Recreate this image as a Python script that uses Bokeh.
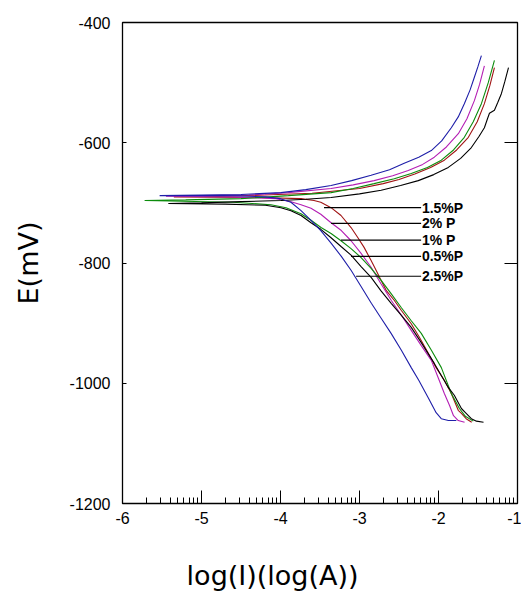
import math
from bokeh.plotting import figure
from bokeh.layouts import column
from bokeh.models import Range1d, LinearAxis, FixedTicker, ColumnDataSource
from bokeh.core.properties import value
from bokeh.embed import file_html
from bokeh.resources import INLINE

# Polarization curves: log(I) in log(A), E in mV.
# Each series runs from the cathodic end, through Ecorr, to the anodic end.
p05_logi = [-1.43, -1.52, -1.584, -1.65, -1.71, -1.80, -1.876, -1.965, -2.053, -2.22,
            -2.345, -2.47, -2.599, -2.73, -2.853, -2.98, -3.107, -3.23, -3.36, -3.49,
            -3.614, -3.74, -3.868, -3.995, -4.19, -4.70, -5.42,
            -5.00, -4.50, -3.995, -3.68, -3.36, -3.00, -2.726, -2.48, -2.256, -2.06,
            -1.876, -1.72, -1.584, -1.49, -1.419, -1.38, -1.355, -1.292, -1.25, -1.203,
            -1.16, -1.114]
p05_e = [-1065, -1063, -1059, -1050, -1042, -1020, -1007, -987, -967, -932,
         -907, -887, -867, -846, -824, -806, -787, -773, -758, -744,
         -733, -721, -713, -708, -704, -702, -701,
         -700, -698, -696, -694, -691, -685, -679, -671, -663, -653,
         -641, -626, -608, -590, -575, -560, -551, -546, -533, -518,
         -498, -475]

p1_logi = [-1.56, -1.66, -1.735, -1.838, -1.964, -2.09, -2.218, -2.345, -2.472, -2.60,
           -2.726, -2.853, -2.98, -3.107, -3.234, -3.36, -3.487, -3.614, -3.741, -3.93,
           -4.12, -4.60, -5.72,
           -5.20, -4.50, -3.90, -3.36, -3.08, -2.815, -2.56, -2.345, -2.14, -1.964,
           -1.81, -1.673, -1.56, -1.457, -1.37, -1.292]
p1_e = [-1063, -1055, -1042, -1017, -974, -945, -917, -896, -874, -851,
        -829, -809, -791, -776, -763, -751, -741, -729, -718, -708,
        -703, -699, -696,
        -695, -693, -688, -683, -676, -668, -660, -651, -641, -629,
        -612, -591, -565, -535, -500, -463]

p15_logi = [-1.58, -1.65, -1.71, -1.75, -1.838, -1.926, -2.03, -2.129, -2.24, -2.345,
            -2.47, -2.561, -2.66, -2.726, -2.79, -2.853, -2.942, -3.02, -3.107, -3.234,
            -3.36, -3.49, -3.576, -3.74, -4.30, -5.35,
            -4.80, -4.20, -3.60, -3.00, -2.70, -2.50, -2.30, -2.10, -1.926, -1.77,
            -1.622, -1.51, -1.419, -1.35, -1.292]
p15_e = [-1065, -1059, -1050, -1045, -1017, -995, -974, -950, -924, -901,
         -879, -862, -846, -829, -812, -796, -774, -758, -741, -721,
         -708, -699, -696, -693, -691, -690,
         -689, -687, -684, -676, -668, -661, -652, -641, -629, -612,
         -591, -565, -535, -505, -475]

p2_logi = [-1.67, -1.75, -1.81, -1.86, -1.926, -2.00, -2.091, -2.22, -2.345, -2.47,
           -2.599, -2.73, -2.853, -2.98, -3.107, -3.23, -3.36, -3.49, -3.614, -3.74,
           -3.868, -4.06, -4.60, -5.45,
           -5.00, -4.40, -3.90, -3.36, -3.08, -2.815, -2.58, -2.383, -2.20, -2.053,
           -1.90, -1.749, -1.64, -1.546, -1.48, -1.419]
p2_e = [-1065, -1062, -1054, -1037, -1017, -992, -962, -937, -912, -887,
        -862, -834, -807, -784, -763, -746, -733, -719, -709, -703,
        -698, -693, -690, -689,
        -688, -687, -683, -676, -670, -663, -655, -646, -636, -624,
        -607, -585, -560, -530, -503, -472]

p25_logi = [-1.774, -1.875, -1.965, -2.03, -2.09, -2.13, -2.25, -2.345, -2.47, -2.60,
            -2.73, -2.85, -2.98, -3.107, -3.23, -3.36, -3.49, -3.614, -3.74, -3.868,
            -4.00, -4.19, -4.60, -5.53,
            -5.00, -4.50, -3.995, -3.68, -3.36, -3.10, -2.853, -2.62, -2.434, -2.25,
            -2.091, -1.96, -1.838, -1.75, -1.673, -1.60, -1.546, -1.50, -1.457]
p25_e = [-1062, -1062, -1059, -1049, -1034, -1024, -995, -974, -945, -917,
         -891, -867, -839, -812, -789, -767, -746, -729, -713, -699,
         -693, -690, -688, -688,
         -687, -686, -683, -678, -671, -663, -654, -645, -634, -624,
         -613, -597, -575, -557, -535, -512, -491, -473, -455]

series_names = ["1.5%P", "2% P", "1% P", "0.5%P", "2.5%P"]
series_colors = ["#a01414", "#b41eb4", "#0c8c0c", "#000000", "#1e1ea8"]
series_data = [(p15_logi, p15_e), (p2_logi, p2_e), (p1_logi, p1_e),
               (p05_logi, p05_e), (p25_logi, p25_e)]

# Leader lines from each curve to its label
label_e = [-708, -734, -762, -789, -822]
leader_start = [-3.449, -3.360, -3.234, -3.107, -3.043]
leader_end = -2.22

x_ticks = [-6, -5, -4, -3, -2, -1]
y_ticks = [-1200, -1000, -800, -600, -400]
minor_x = [d + math.log10(k) for d in range(-6, -1) for k in range(2, 10)]

x_title = "log(I)(log(A))"
y_title = "E(mV)"

FONT = "Liberation Sans"
TITLE_FONT = "DejaVu Sans"
TITLE_SIZE = "27px"

W = 521
MAIN_H = 552
TITLE_H = 40

p = figure(width=W, height=MAIN_H, output_backend="svg", toolbar_location=None,
           x_range=Range1d(-6, -1), y_range=Range1d(-1200, -400),
           min_border_left=122, min_border_right=4, min_border_top=22,
           min_border_bottom=49, background_fill_color="white",
           border_fill_color="white")
p.grid.visible = False
p.outline_line_color = "black"
p.outline_line_width = 1.3

for (xs, ys), col in zip(series_data, series_colors):
    p.line(xs, ys, line_color=col, line_width=1.1)

src = ColumnDataSource(dict(x0=leader_start, x1=[leader_end] * 5, y=label_e,
                            name=series_names))
p.segment(x0="x0", y0="y", x1="x1", y1="y", source=src, line_color="black",
          line_width=1.2)
p.text(x=leader_end + 0.01, y="y", text="name", source=src,
       text_font=value(FONT), text_font_size="14px", text_font_style="bold",
       text_baseline="middle", text_align="left", text_color="black")

# bottom axis: inward ticks with log-spaced minor ticks
xa = p.xaxis[0]
xa.ticker = FixedTicker(ticks=x_ticks, minor_ticks=minor_x)
xa.major_label_overrides = {t: str(t) for t in x_ticks}
xa.major_tick_in = 13
xa.major_tick_out = 0
xa.minor_tick_in = 6
xa.minor_tick_out = 0
xa.axis_line_color = None
xa.major_tick_line_color = "black"
xa.minor_tick_line_color = "black"
xa.major_label_standoff = 8
xa.major_label_text_font = FONT
xa.major_label_text_font_size = "16px"
xa.major_label_text_color = "black"

ya = p.yaxis[0]
ya.ticker = FixedTicker(ticks=y_ticks)
ya.major_label_overrides = {t: str(t) for t in y_ticks}
ya.major_tick_in = 4
ya.major_tick_out = 0
ya.minor_tick_in = 0
ya.minor_tick_out = 0
ya.axis_line_color = None
ya.major_label_standoff = 12
ya.major_label_text_font = FONT
ya.major_label_text_font_size = "16px"
ya.major_label_text_color = "black"
ya.axis_label = y_title
ya.axis_label_text_font = TITLE_FONT
ya.axis_label_text_font_size = TITLE_SIZE
ya.axis_label_text_font_style = "normal"
ya.axis_label_text_color = "black"
ya.axis_label_standoff = 23

# right axis: inward ticks only
right_ticks = y_ticks[1:-1]
ra = LinearAxis(ticker=FixedTicker(ticks=right_ticks), major_tick_in=13,
                major_tick_out=0, minor_tick_in=0, minor_tick_out=0,
                axis_line_color=None, major_label_overrides={t: "" for t in right_ticks},
                major_label_standoff=0)
p.add_layout(ra, "right")

# strip below the chart carrying the x-axis title; its frame lines up with the
# chart frame in the column, so it shares the log(I) range
t = figure(width=W, height=TITLE_H, output_backend="svg", toolbar_location=None,
           x_range=Range1d(-6, -1), y_range=Range1d(0, TITLE_H),
           x_axis_type=None, y_axis_type=None, min_border=0,
           background_fill_color="white", border_fill_color="white")
t.grid.visible = False
t.outline_line_color = None
t.text(x=[-4.10], y=[TITLE_H - 23], text=[x_title], text_font=value(TITLE_FONT),
       text_font_size=TITLE_SIZE, text_align="center", text_baseline="middle",
       text_color="black")

layout = column(p, t, spacing=0)
open("out.html", "w").write(file_html(layout, INLINE))
